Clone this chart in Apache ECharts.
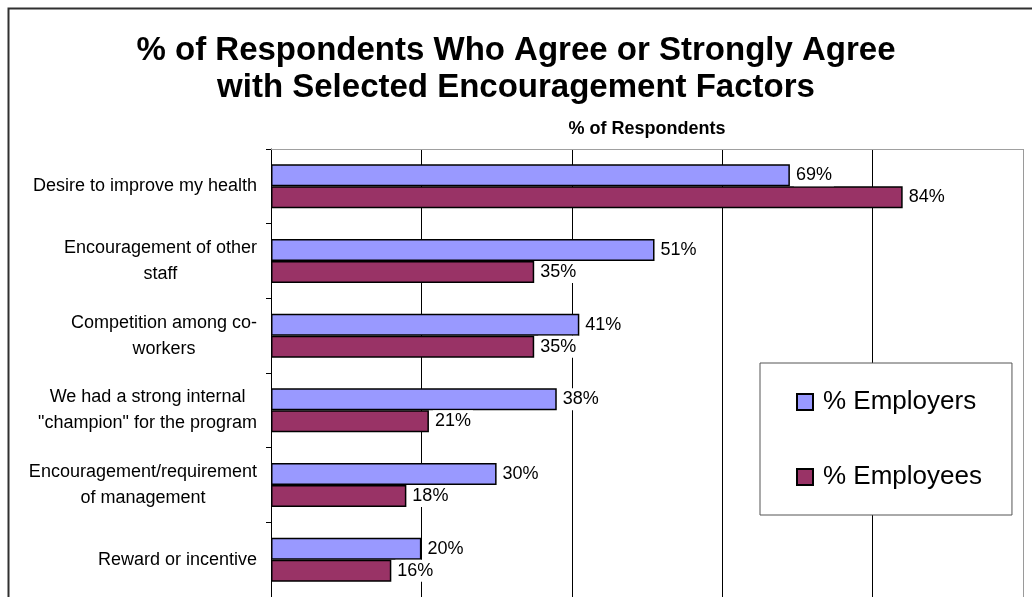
<!DOCTYPE html>
<html>
<head>
<meta charset="utf-8">
<script src="https://cdn.jsdelivr.net/npm/echarts@6/dist/echarts.min.js"></script>
<style>
  html, body { margin: 0; padding: 0; background: #fff; }
  #chart { width: 1032px; height: 597px; }
</style>
</head>
<body>
<div id="chart"></div>
<script>
// Encouragement factors, top to bottom
var categories = [
  'Desire to improve my health',
  'Encouragement of other\nstaff',
  'Competition among co-\nworkers',
  'We had a strong internal\n"champion" for the program',
  'Encouragement/requirement\nof management',
  'Reward or incentive'
];
var employers = [69, 51, 41, 38, 30, 20];
var employees = [84, 35, 35, 21, 18, 16];
var seriesNames = ['% Employers', '% Employees'];
var axisTitle = '% of Respondents';
var chartTitle = '% of Respondents Who Agree or Strongly Agree\nwith Selected Encouragement Factors';

var FONT = 'Arial, "Liberation Sans", sans-serif';

var chart = echarts.init(document.getElementById('chart'), null, { renderer: 'canvas' });

var valueLabel = {
  show: true,
  position: 'right',
  distance: 4,
  formatter: '{c}%',
  color: '#000',
  fontFamily: FONT,
  fontSize: 18,
  backgroundColor: '#fff',
  padding: [2, 2, 2, 2]
};

chart.setOption({
  animation: false,
  backgroundColor: '#fff',
  textStyle: { fontFamily: FONT },
  title: {
    text: chartTitle,
    left: 'center',
    top: 27,
    textStyle: {
      fontFamily: FONT,
      fontSize: 33,
      fontWeight: 'bold',
      color: '#000',
      lineHeight: 37
    }
  },
  legend: {
    orient: 'vertical',
    left: 760,
    top: 363,
    padding: [24, 30, 23, 36],
    itemGap: 45,
    itemWidth: 16,
    itemHeight: 16,
    icon: 'rect',
    backgroundColor: '#fff',
    borderColor: '#555',
    borderWidth: 1,
    formatter: function (name) { return '{t|' + name + '}'; },
    textStyle: {
      fontFamily: FONT, fontSize: 26, lineHeight: 30, color: '#000',
      rich: { t: { fontFamily: FONT, fontSize: 26, lineHeight: 30, color: '#000', padding: [0, 0, 0, 5] } }
    },
    data: seriesNames
  },
  grid: { left: 271, right: 9, top: 149, height: 452, containLabel: false },
  xAxis: {
    type: 'value',
    position: 'top',
    min: 0,
    max: 100,
    interval: 20,
    name: axisTitle,
    nameLocation: 'middle',
    nameGap: 11,
    nameTextStyle: { fontFamily: FONT, fontSize: 18, fontWeight: 'bold', color: '#000' },
    axisLine: { show: true, lineStyle: { color: '#a0a0a0', width: 1 } },
    axisTick: { show: false },
    axisLabel: { show: false },
    splitLine: {
      show: true,
      lineStyle: { color: ['#000', '#000', '#000', '#000', '#000', '#9a9a9a'], width: 1 }
    }
  },
  yAxis: {
    type: 'category',
    inverse: true,
    data: categories,
    axisLine: { show: true, lineStyle: { color: '#000', width: 1 } },
    axisTick: { show: true, length: 5, lineStyle: { color: '#000' } },
    axisLabel: {
      margin: 14,
      align: 'right',
      color: '#000',
      fontFamily: FONT,
      fontSize: 18,
      lineHeight: 26,
      formatter: function (v) {
        return v.split('\n').map(function (l) { return '{c|' + l + '}'; }).join('\n');
      },
      rich: {
        c: { align: 'center', fontFamily: FONT, fontSize: 18, lineHeight: 26, color: '#000' }
      }
    },
    splitLine: { show: false }
  },
  series: [
    {
      name: seriesNames[0],
      type: 'bar',
      data: employers,
      barGap: '0%',
      barCategoryGap: '41%',
      itemStyle: { color: '#9999ff', borderColor: '#000', borderWidth: 1.5 },
      label: valueLabel
    },
    {
      name: seriesNames[1],
      type: 'bar',
      data: employees,
      barGap: '0%',
      barCategoryGap: '41%',
      itemStyle: { color: '#993366', borderColor: '#000', borderWidth: 1.5 },
      label: valueLabel
    }
  ],
  graphic: [
    {
      type: 'rect',
      shape: { x: 8.5, y: 8.5, width: 1100, height: 700 },
      style: { fill: null, stroke: '#303030', lineWidth: 2 },
      silent: true,
      z: 100
    }
  ]
});
</script>
</body>
</html>
